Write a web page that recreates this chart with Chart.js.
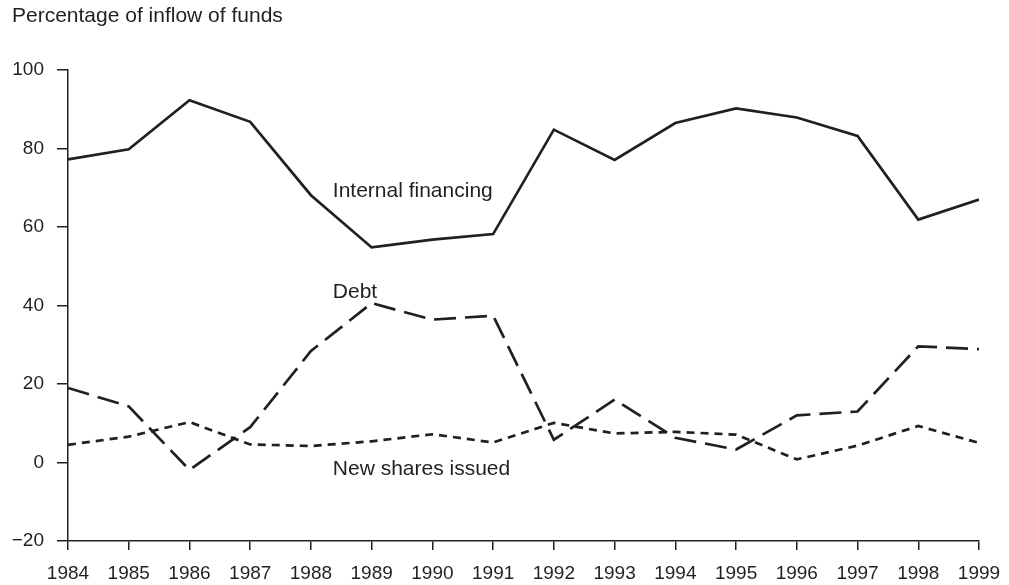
<!DOCTYPE html>
<html>
<head>
<meta charset="utf-8">
<script src="https://cdn.jsdelivr.net/npm/chart.js@4/dist/chart.umd.min.js"></script>
<style>
  html, body { margin: 0; padding: 0; background: #fff; }
  #wrap { width: 1009px; height: 585px; position: relative; }
</style>
</head>
<body>
<div id="wrap"><canvas id="fundsChart"></canvas></div>
<script>
// 数据
const years = [1984, 1985, 1986, 1987, 1988, 1989, 1990, 1991, 1992, 1993, 1994, 1995, 1996, 1997, 1998, 1999];
const internalFinancing = [77.2, 79.8, 92.3, 86.8, 68.1, 54.8, 56.8, 58.2, 84.8, 77.1, 86.5, 90.2, 87.9, 83.2, 61.9, 67.0];
const debt = [19.0, 14.3, -1.9, 9.0, 28.4, 40.6, 36.4, 37.4, 5.8, 16.0, 6.3, 3.3, 12.0, 13.0, 29.6, 28.9];
const newShares = [4.5, 6.6, 10.3, 4.6, 4.2, 5.4, 7.2, 5.1, 10.1, 7.4, 7.8, 7.1, 0.8, 4.3, 9.3, 5.0];
const yTicks = [-20, 0, 20, 40, 60, 80, 100];

const ink = '#231f20';
const font = '"Liberation Sans", Arial, Helvetica, sans-serif';

// 线上标注（数据坐标）
const labels = [
    { text: 'Internal financing', x: 1988.36, y: 67.6 },
    { text: 'Debt', x: 1988.36, y: 41.8 },
    { text: 'New shares issued', x: 1988.36, y: -3.3 }
];

function toPoints(values) {
    return years.map((yr, i) => ({ x: yr, y: values[i] }));
}

const textPlugin = {
    id: 'textPlugin',
    afterDraw(chart) {
        const ctx = chart.ctx;
        const xs = chart.scales.x;
        const ys = chart.scales.y;
        ctx.save();
        ctx.fillStyle = ink;
        ctx.font = '21px ' + font;
        ctx.textAlign = 'left';
        ctx.textBaseline = 'alphabetic';
        ctx.fillText('Percentage of inflow of funds', 12, 22);
        labels.forEach(l => {
            ctx.fillText(l.text, xs.getPixelForValue(l.x), ys.getPixelForValue(l.y));
        });
        ctx.restore();
    }
};

new Chart(document.getElementById('fundsChart'), {
    type: 'line',
    data: {
        datasets: [
            {
                label: 'Internal financing',
                data: toPoints(internalFinancing),
                borderColor: ink,
                borderWidth: 2.7,
                pointRadius: 0,
                tension: 0
            },
            {
                label: 'Debt',
                data: toPoints(debt),
                borderColor: ink,
                borderWidth: 2.7,
                borderDash: [22, 9],
                pointRadius: 0,
                tension: 0
            },
            {
                label: 'New shares issued',
                data: toPoints(newShares),
                borderColor: ink,
                borderWidth: 2.7,
                borderDash: [8, 6],
                pointRadius: 0,
                tension: 0
            }
        ]
    },
    options: {
        responsive: true,
        maintainAspectRatio: false,
        animation: false,
        layout: { padding: { top: 70, right: 30, left: 0, bottom: 0 } },
        plugins: {
            legend: { display: false },
            tooltip: { enabled: false },
            title: { display: false }
        },
        scales: {
            x: {
                type: 'linear',
                min: years[0],
                max: years[years.length - 1],
                afterBuildTicks: scale => { scale.ticks = years.map(v => ({ value: v })); },
                afterFit: scale => {
                    scale.height = 44;
                    scale.paddingRight = 30;
                    scale.paddingLeft = 0;
                },
                border: { display: true, color: ink, width: 1.5 },
                grid: { display: true, drawOnChartArea: false, drawTicks: true, tickLength: 9, color: ink, lineWidth: 1.5 },
                ticks: {
                    autoSkip: false,
                    maxRotation: 0,
                    padding: 12,
                    color: ink,
                    font: { family: font, size: 19 },
                    callback: v => String(v)
                }
            },
            y: {
                min: -20,
                max: 100,
                afterBuildTicks: scale => { scale.ticks = yTicks.map(v => ({ value: v })); },
                afterFit: scale => { scale.width = 68; },
                border: { display: true, color: ink, width: 1.5 },
                grid: { display: true, drawOnChartArea: false, drawTicks: true, tickLength: 11, color: ink, lineWidth: 1.5 },
                ticks: {
                    padding: 13,
                    color: ink,
                    font: { family: font, size: 19 },
                    callback: v => v < 0 ? '\u2212' + Math.abs(v) : String(v)
                }
            }
        }
    },
    plugins: [textPlugin]
});
</script>
</body>
</html>
